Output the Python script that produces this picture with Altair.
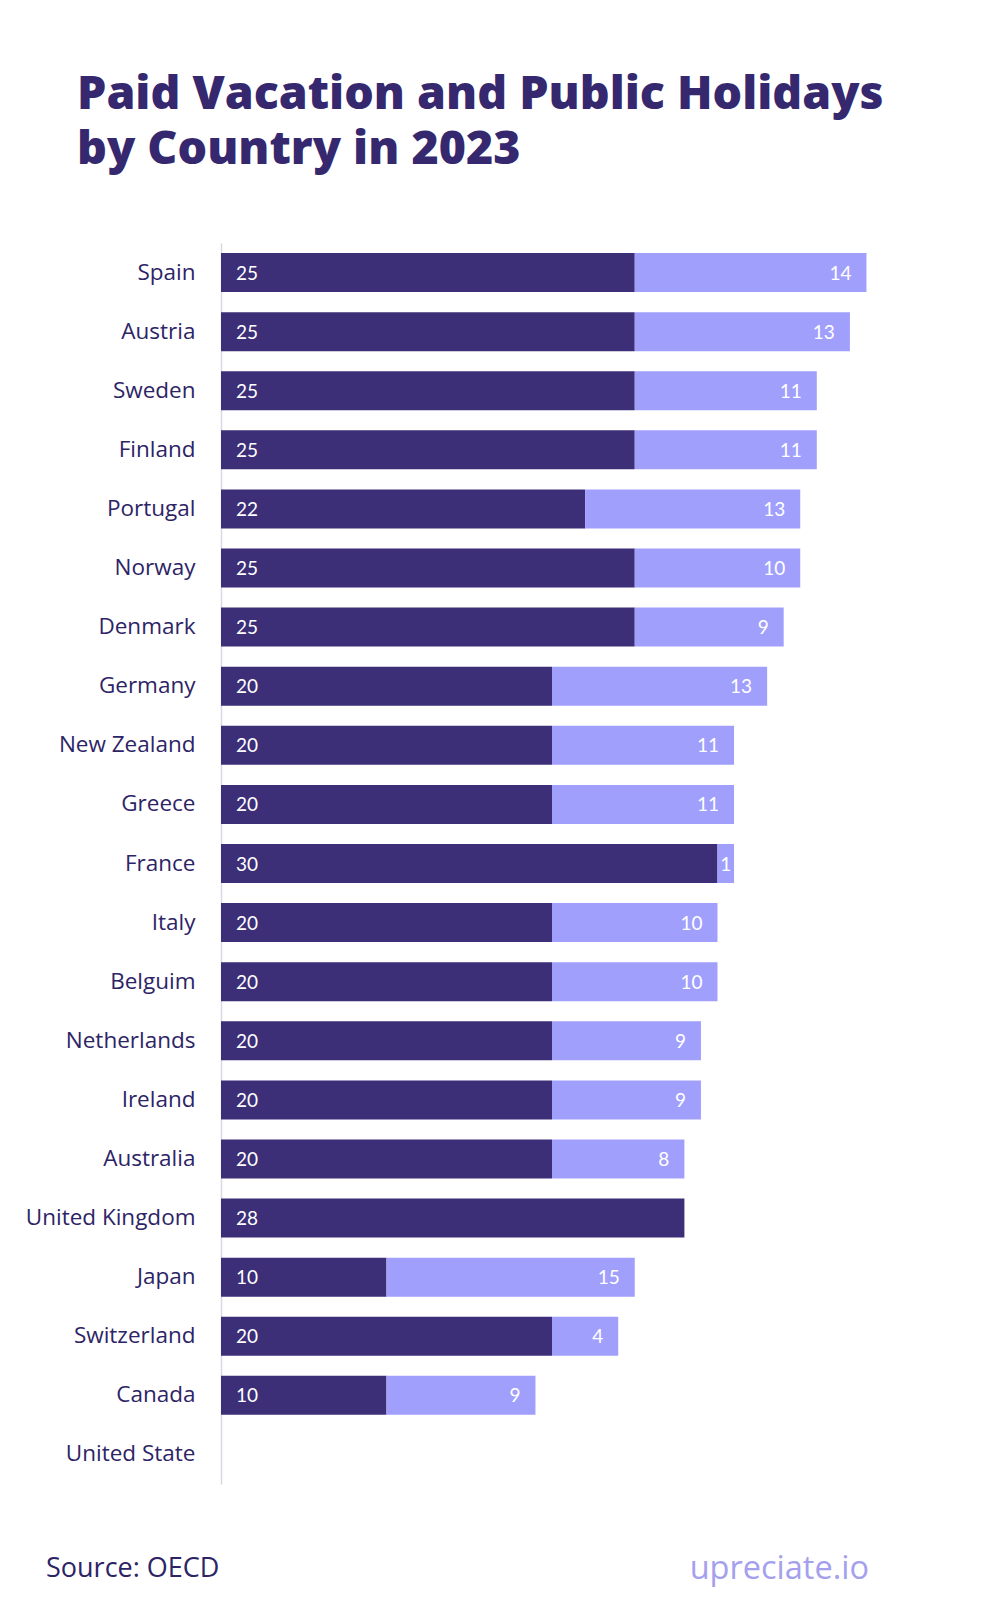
import altair as alt
import pandas as pd

countries = ["Spain", "Austria", "Sweden", "Finland", "Portugal", "Norway", "Denmark",
             "Germany", "New Zealand", "Greece", "France", "Italy", "Belguim", "Netherlands",
             "Ireland", "Australia", "United Kingdom", "Japan", "Switzerland", "Canada",
             "United State"]
vacation = [25, 25, 25, 25, 22, 25, 25, 20, 20, 20, 30, 20, 20, 20, 20, 20, 28, 10, 20, 10, 0]
holidays = [14, 13, 11, 11, 13, 10, 9, 13, 11, 11, 1, 10, 10, 9, 9, 8, 0, 15, 4, 9, 0]

DARK = "#3c2e77"
LIGHT = "#a19ffc"
TEXT = "#2d2466"
FONT = "Lato"
WIDE = "Open Sans"

df = pd.DataFrame({"country": countries, "vacation": vacation, "holidays": holidays})

base = alt.Chart(df).transform_calculate(
    total="datum.vacation + datum.holidays",
    zero="0",
    mid="datum.vacation + datum.holidays / 2",
)

yenc = alt.Y(
    "country:N",
    sort=countries,
    scale=alt.Scale(paddingInner=0.34, paddingOuter=0.17),
    axis=alt.Axis(
        title=None, ticks=False, domain=True, domainColor="#d9d9e3", domainWidth=1.5,
        labelPadding=26, labelFontSize=22.5, labelColor=TEXT, labelFont=WIDE,
        labelFontWeight="normal", grid=False,
    ),
)
xscale = alt.Scale(domain=[0, 40], nice=False, zero=True)
xaxis = None

dark_bar = base.mark_bar(color=DARK).encode(
    x=alt.X("zero:Q", scale=xscale, axis=xaxis),
    x2="vacation:Q",
    y=yenc,
)
light_bar = base.mark_bar(color=LIGHT).encode(
    x=alt.X("vacation:Q", scale=xscale, axis=xaxis),
    x2="total:Q",
    y=yenc,
)
dark_txt = base.transform_filter("datum.vacation > 0").mark_text(
    align="left", baseline="middle", dx=15, dy=1, color="white", fontSize=19, font=FONT
).encode(
    x=alt.X("zero:Q", scale=xscale, axis=xaxis),
    y=yenc,
    text="vacation:Q",
)
light_txt = base.transform_filter("datum.holidays >= 2").mark_text(
    align="right", baseline="middle", dx=-15, dy=1, color="white", fontSize=19, font=FONT
).encode(
    x=alt.X("total:Q", scale=xscale, axis=xaxis),
    y=yenc,
    text="holidays:Q",
)
light_txt_small = base.transform_filter("datum.holidays > 0 && datum.holidays < 2").mark_text(
    align="center", baseline="middle", dy=1, color="white", fontSize=19, font=FONT
).encode(
    x=alt.X("mid:Q", scale=xscale, axis=xaxis),
    y=yenc,
    text="holidays:Q",
)

src = alt.Chart(pd.DataFrame({"t": ["Source: OECD"]})).mark_text(
    align="left", baseline="middle", fontSize=27, font=WIDE, color=TEXT
).encode(x=alt.value(-175), y=alt.value(1326), text="t:N")
brand = alt.Chart(pd.DataFrame({"t": ["upreciate.io"]})).mark_text(
    align="right", baseline="middle", fontSize=32.5, font=WIDE, color="#a4a0ee"
).encode(x=alt.value(648), y=alt.value(1326), text="t:N")

chart = alt.layer(dark_bar, light_bar, dark_txt, light_txt, light_txt_small, src, brand).properties(
    width=662,
    height=1241,
    background="white",
    autosize=alt.AutoSizeParams(type="none"),
    padding={"left": 213, "top": 235, "right": 109, "bottom": 134},
    title=alt.TitleParams(
        text=["Paid Vacation and Public Holidays", "by Country in 2023"],
        anchor="start", frame="group", dx=-144, offset=70,
        fontSize=46.5, fontWeight=800, font=WIDE, color="#35286f", lineHeight=55,
    ),
).configure_view(strokeWidth=0, stroke=None)

chart.save("out.html", embed_options={"renderer": "svg", "actions": False})
